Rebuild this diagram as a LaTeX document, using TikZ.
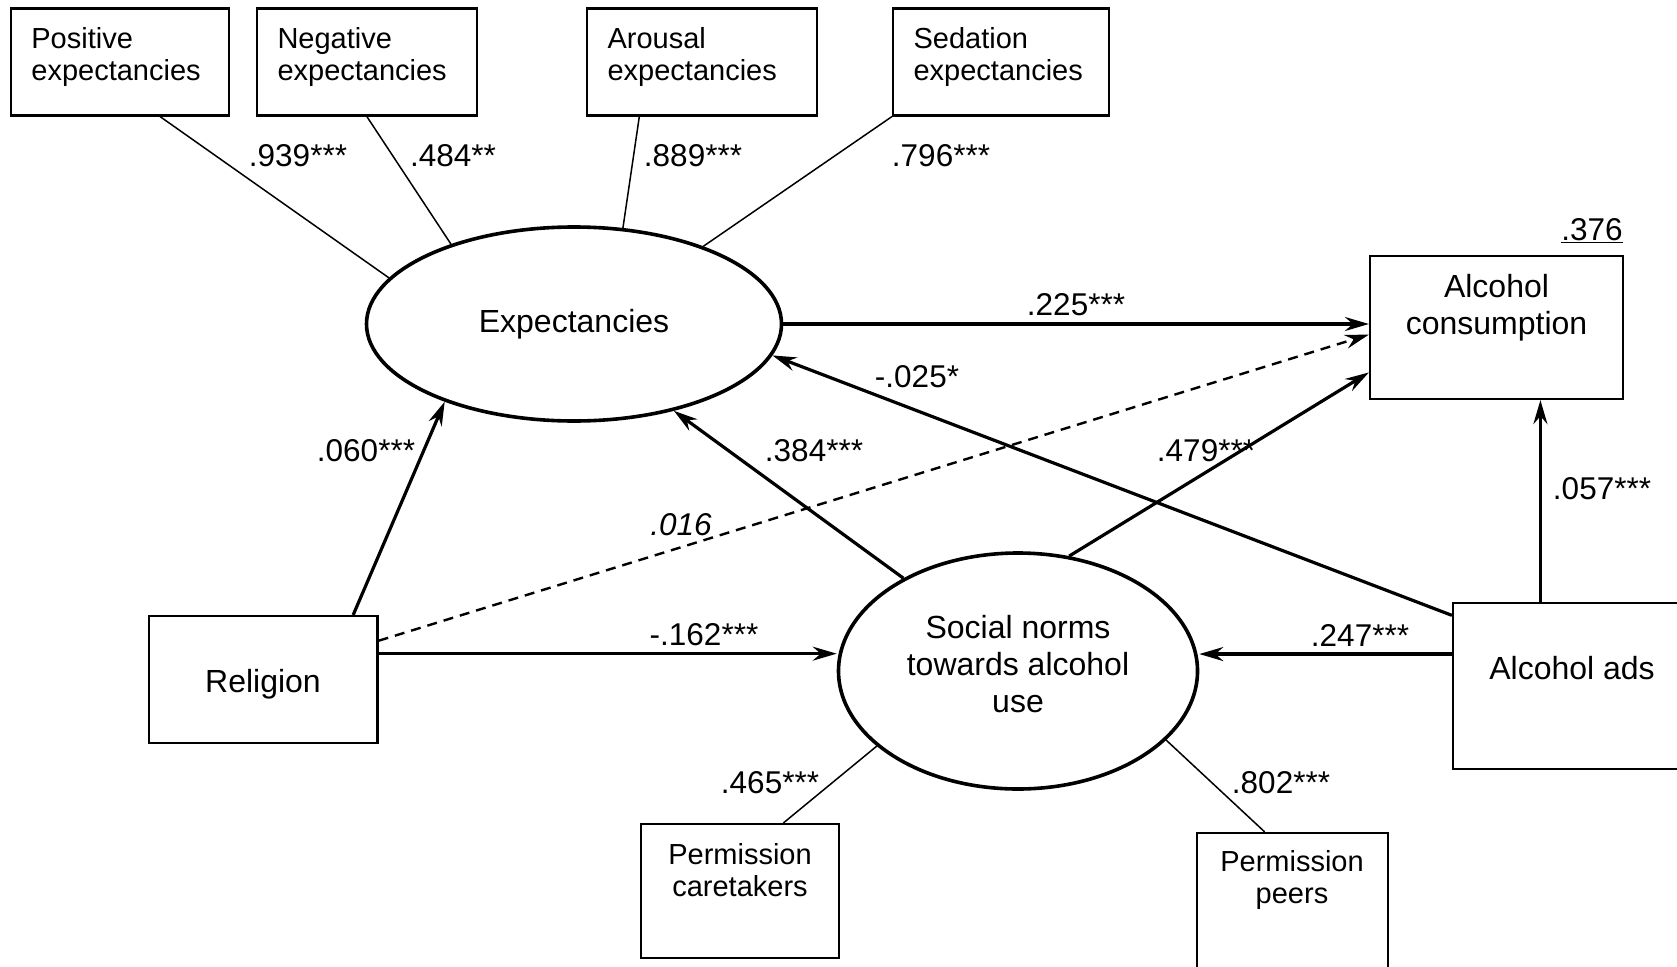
\documentclass[tikz,border=0pt]{standalone}
\usepackage{fontspec}
\setmainfont{Liberation Sans}
\usetikzlibrary{arrows.meta,calc,shapes.geometric}
\begin{document}
\begin{tikzpicture}[x=1pt,y=-1pt,
  box/.style={draw,line width=2.2pt,inner sep=0pt},
  ell/.style={draw,ellipse,line width=3.6pt,inner sep=0pt},
  big/.style={font=\fontsize{32}{37}\selectfont},
  small/.style={font=\fontsize{29}{32.5}\selectfont},
  lab/.style={font=\fontsize{31.5}{36}\selectfont, inner sep=0pt},
  arr/.style={line width=3.2pt,-{Stealth[length=24pt,width=14pt,inset=8pt]}},
  dasharr/.style={line width=2.4pt,dash pattern=on 10pt off 7pt,-{Stealth[length=24pt,width=14pt,inset=8pt]}},
  thinline/.style={line width=1.5pt},
]
\useasboundingbox (0,0) rectangle (1677,966);
\fill[white] (0,0) rectangle (1677,966);

% top indicator boxes
\node[box, minimum width=218pt, minimum height=107pt] (pos) at (119.8,62) {};
\node[box, minimum width=220pt, minimum height=107pt] (neg) at (366.9,62) {};
\node[box, minimum width=230pt, minimum height=107pt] (aro) at (702,62) {};
\node[box, minimum width=216pt, minimum height=107pt] (sed) at (1001,62) {};
\node[small, align=left, anchor=west, inner sep=0pt] (post) at ($(pos.north west)+(21.5,49.5)$) {Positive\\expectancies};
\node[small, align=left, anchor=west, inner sep=0pt] (negt) at ($(neg.north west)+(21.5,49.5)$) {Negative\\expectancies};
\node[small, align=left, anchor=west, inner sep=0pt] (arot) at ($(aro.north west)+(21.5,49.5)$) {Arousal\\expectancies};
\node[small, align=left, anchor=west, inner sep=0pt] (sedt) at ($(sed.north west)+(21.5,49.5)$) {Sedation\\expectancies};

% latent variables
\node[ell, big, minimum width=415pt, minimum height=194pt] (exp) at (574,324) {Expectancies};
\node[ell, minimum width=359pt, minimum height=236pt] (soc) at (1018,671) {};
\node[big, align=center, inner sep=0pt] (soct) at (1018,664.5) {Social norms\\towards alcohol\\use};

% other boxes
\node[box, minimum width=253pt, minimum height=143.4pt] (ac) at (1496.5,327.3) {};
\node[big, align=center, inner sep=0pt] (act) at (1496.5,308) {Alcohol\\consumption};
\node[box, minimum width=247pt, minimum height=166pt] (ads) at (1576.5,686) {};
\node[big, inner sep=0pt] (adst) at (1572,668) {Alcohol ads};
\node[box, minimum width=228.8pt, minimum height=127pt] (rel) at (263.1,679.5) {};
\node[big, inner sep=0pt] (relt) at (263,684) {Religion};
\node[box, minimum width=198pt, minimum height=134pt] (care) at (740,891) {};
\node[small, align=center, inner sep=0pt] (caret) at (740,870) {Permission\\caretakers};
\node[box, minimum width=191pt, minimum height=167pt] (peer) at (1292.5,916.5) {};
\node[small, align=center, inner sep=0pt] (peert) at (1292,880) {Permission\\peers};

% measurement lines
\draw[thinline] ($(pos.south west)!0.683!(pos.south east)$) -- (exp.166);
\draw[thinline] (neg.south) -- (exp.147.8);
\draw[thinline] ($(aro.south west)!0.23!(aro.south east)$) -- (exp.63.9);
\draw[thinline] (sed.south west) -- (exp.31.3);
\draw[thinline] (soc.-152.6) -- ($(care.north west)!0.717!(care.north east)$);
\draw[thinline] (soc.-25.3) -- ($(peer.north west)!0.356!(peer.north east)$);

% structural paths
\draw[arr] (exp.east) -- (exp.east -| ac.west);
\draw[dasharr] ($(rel.north east)!0.2!(rel.south east)$) -- ($(ac.north west)!0.55!(ac.south west)$);
\draw[arr] (soc.66) -- ($(ac.north west)!0.81!(ac.south west)$);
\draw[arr] ($(ads.north west)!0.08!(ads.south west)$) -- (exp.-9);
\draw[arr] (soc.141) -- (exp.-41.5);
\draw[arr] ($(rel.north west)!0.89!(rel.north east)$) -- (exp.-149);
\coordinate (r1) at ($(rel.north east)!0.30!(rel.south east)$);
\draw[arr] (r1) -- (r1 -| soc.west);
\coordinate (a1) at ($(ads.north west)!0.31!(ads.south west)$);
\draw[arr] (a1) -- (a1 -| soc.east);
\coordinate (c1) at ($(ac.south west)!0.672!(ac.south east)$);
\draw[arr] (ads.north -| c1) -- (c1);

% labels
\node[lab] (l939) at (298,156) {.939***};
\node[lab] (l484) at (453,156) {.484**};
\node[lab] (l889) at (693,156) {.889***};
\node[lab] (l796) at (941,156) {.796***};
\node[lab] (l376) at (1592,231) {\underline{.376}};
\node[lab] (l225) at (1076,305) {.225***};
\node[lab] (l025) at (917,377) {-.025*};
\node[lab] (l060) at (366,451) {.060***};
\node[lab] (l384) at (814,451) {.384***};
\node[lab] (l479) at (1206,451) {.479***};
\node[lab] (l057) at (1602,489) {.057***};
\node[lab] (l016) at (681,525) {\itshape .016};
\node[lab] (l162) at (704,635) {-.162***};
\node[lab] (l247) at (1360,635) {.247***};
\node[lab] (l465) at (770,783) {.465***};
\node[lab] (l802) at (1281,783) {.802***};
\end{tikzpicture}
\end{document}
